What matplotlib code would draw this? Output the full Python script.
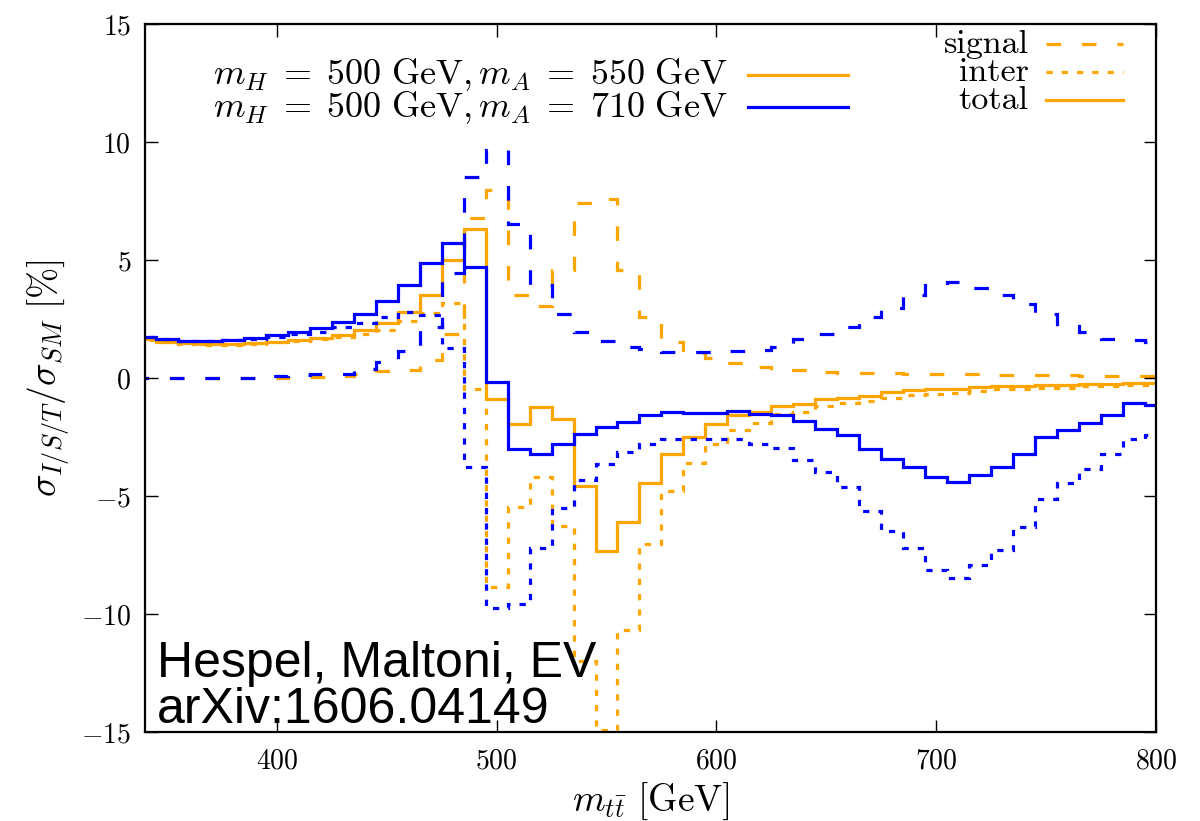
import numpy as np
import matplotlib
matplotlib.use("Agg")
import matplotlib.pyplot as plt
from matplotlib.lines import Line2D

plt.rcParams['mathtext.fontset'] = 'cm'
plt.rcParams['font.family'] = 'serif'
plt.rcParams['font.serif'] = ['cmr10', 'DejaVu Serif']
plt.rcParams['axes.formatter.use_mathtext'] = True
plt.rcParams['axes.unicode_minus'] = True
plt.rcParams['lines.scale_dashes'] = False

# bins of 10 GeV centred on 340, 350, ..., 800 GeV
bin_edges = np.arange(335, 815, 10)

# m_H = 500 GeV, m_A = 550 GeV  (orange)
signal_550 = [0.0, 0.0, 0.0, 0.0, 0.01, 0.02, 0.03, 0.04, 0.05, 0.08, 0.18, 0.30,
              0.35, 0.77, 1.86, 6.78, 7.97,
              3.53, 3.06, 4.59, 7.45, 7.60, 4.60,
              2.58, 1.55, 1.08, 0.84, 0.63, 0.48, 0.36,
              0.33, 0.28, 0.24, 0.22, 0.21, 0.20, 0.18,
              0.17, 0.16, 0.15, 0.14, 0.13, 0.12, 0.11, 0.10, 0.10, 0.09]
inter_550 = [1.63, 1.53, 1.46, 1.43, 1.43, 1.45, 1.52, 1.58, 1.67, 1.76, 1.88, 2.05,
             2.44, 2.78, 3.20, -0.45, -8.84,
             -5.45, -4.20, -6.28, -12.00, -14.90, -10.68,
             -7.02, -4.78, -3.58, -2.78, -2.20, -1.90, -1.53,
             -1.43, -1.16, -1.05, -0.96, -0.82, -0.72, -0.66,
             -0.61, -0.54, -0.47, -0.44, -0.42, -0.41, -0.35, -0.34, -0.29, -0.28]
total_550 = [1.65, 1.55, 1.48, 1.45, 1.45, 1.48, 1.55, 1.62, 1.72, 1.84, 2.06, 2.35,
             2.79, 3.55, 5.01, 6.33, -0.87,
             -1.94, -1.20, -1.72, -4.58, -7.31, -6.08,
             -4.46, -3.21, -2.48, -1.96, -1.57, -1.42, -1.17,
             -1.09, -0.88, -0.82, -0.74, -0.60, -0.50, -0.47,
             -0.44, -0.39, -0.33, -0.31, -0.30, -0.30, -0.24, -0.24, -0.19, -0.19]

# m_H = 500 GeV, m_A = 710 GeV  (blue)
signal_710 = [0.0, 0.0, 0.0, 0.0, 0.01, 0.03, 0.08, 0.12, 0.18, 0.20, 0.40, 0.70,
              1.16, 2.19, 4.45, 8.52, 9.68,
              6.54, 3.95, 2.71, 1.98, 1.59, 1.33,
              1.25, 1.13, 1.10, 1.10, 1.17, 1.20, 1.34,
              1.65, 1.86, 2.19, 2.58, 2.97, 3.53, 3.95,
              4.10, 3.83, 3.53, 3.15, 2.72, 2.22, 1.98, 1.65, 1.62, 1.55]
inter_710 = [1.74, 1.66, 1.58, 1.59, 1.61, 1.66, 1.75, 1.86, 1.96, 2.17, 2.33, 2.58,
             2.79, 2.68, 1.30, -3.78, -9.76,
             -9.58, -7.19, -5.49, -4.32, -3.64, -3.14,
             -2.78, -2.56, -2.59, -2.58, -2.59, -2.80, -2.95,
             -3.47, -3.96, -4.60, -5.62, -6.47, -7.21, -8.11,
             -8.46, -7.92, -7.28, -6.32, -5.13, -4.43, -3.85, -3.21, -2.59, -2.41]
total_710 = [1.74, 1.66, 1.58, 1.59, 1.62, 1.69, 1.83, 1.98, 2.14, 2.37, 2.73, 3.28,
             3.95, 4.87, 5.75, 4.71, -0.14,
             -3.02, -3.23, -2.79, -2.35, -2.05, -1.84,
             -1.56, -1.45, -1.49, -1.49, -1.41, -1.52, -1.56,
             -1.81, -2.15, -2.41, -3.00, -3.44, -3.78, -4.20,
             -4.39, -4.10, -3.78, -3.23, -2.48, -2.19, -1.88, -1.56, -1.04, -1.13]

model_labels = [r"$m_H\;=\;500\ \mathrm{GeV,}m_A\;=\;550\ \mathrm{GeV}$",
                r"$m_H\;=\;500\ \mathrm{GeV,}m_A\;=\;710\ \mathrm{GeV}$"]
style_labels = ["signal", "inter", "total"]
x_ticks = [400, 500, 600, 700, 800]
y_ticks = [-15, -10, -5, 0, 5, 10, 15]

ORANGE = '#FFA500'
BLUE = '#0000FF'
LW = 2.3
DASH = (0, (10.5, 15.0))
DOT = (0, (4.5, 6.5))

fig = plt.figure(figsize=(12.0, 8.21), dpi=100)
ax = fig.add_axes([0.1208, 0.1084, 0.9633 - 0.1208, 0.9702 - 0.1084])

for sig, inter, tot, col in [(signal_550, inter_550, total_550, ORANGE),
                             (signal_710, inter_710, total_710, BLUE)]:
    ax.stairs(sig, bin_edges, baseline=None, color=col, lw=LW, linestyle=DASH)
    ax.stairs(inter, bin_edges, baseline=None, color=col, lw=LW, linestyle=DOT)
    ax.stairs(tot, bin_edges, baseline=None, color=col, lw=LW, linestyle='-')

ax.set_xlim(340, 800)
ax.set_ylim(-15, 15)
ax.set_xticks(x_ticks)
ax.set_yticks(y_ticks)
ax.tick_params(direction='in', length=9, width=1.0, top=True, right=True,
               labelsize=20, pad=10, colors='black')
ax.tick_params(axis='x', pad=12)
for s in ax.spines.values():
    s.set_linewidth(1.6)

ax.set_xlabel(r"$m_{t\bar{t}}\ [\mathrm{GeV}]$", fontsize=27, labelpad=4)
ax.set_ylabel(r"$\sigma_{I/S/T}/\sigma_{SM}\ [\%]$", fontsize=27, labelpad=6)

# model legend (top left)
for i, (lab, col) in enumerate(zip(model_labels, [ORANGE, BLUE])):
    yy = 0.929 - i * 0.046
    ax.text(0.576, yy, lab, transform=ax.transAxes, ha='right', va='center',
            fontsize=26)
    ax.add_line(Line2D([0.596, 0.695], [yy, yy], transform=ax.transAxes,
                       color=col, lw=LW))

# style legend (top right)
for i, (lab, ls) in enumerate(zip(style_labels, [DASH, DOT, '-'])):
    yy = 0.972 - i * 0.0395
    ax.text(0.874, yy, lab, transform=ax.transAxes, ha='right', va='center',
            fontsize=24.5)
    ax.add_line(Line2D([0.891, 0.967], [yy, yy], transform=ax.transAxes,
                       color=ORANGE, lw=LW, linestyle=ls))

fig.text(0.131, 0.176, "Hespel, Maltoni, EV", fontsize=36,
         family=['Liberation Sans', 'DejaVu Sans'], va='baseline', ha='left')
fig.text(0.131, 0.119, "arXiv:1606.04149", fontsize=36,
         family=['Liberation Sans', 'DejaVu Sans'], va='baseline', ha='left')

fig.savefig("out.png", dpi=100)
